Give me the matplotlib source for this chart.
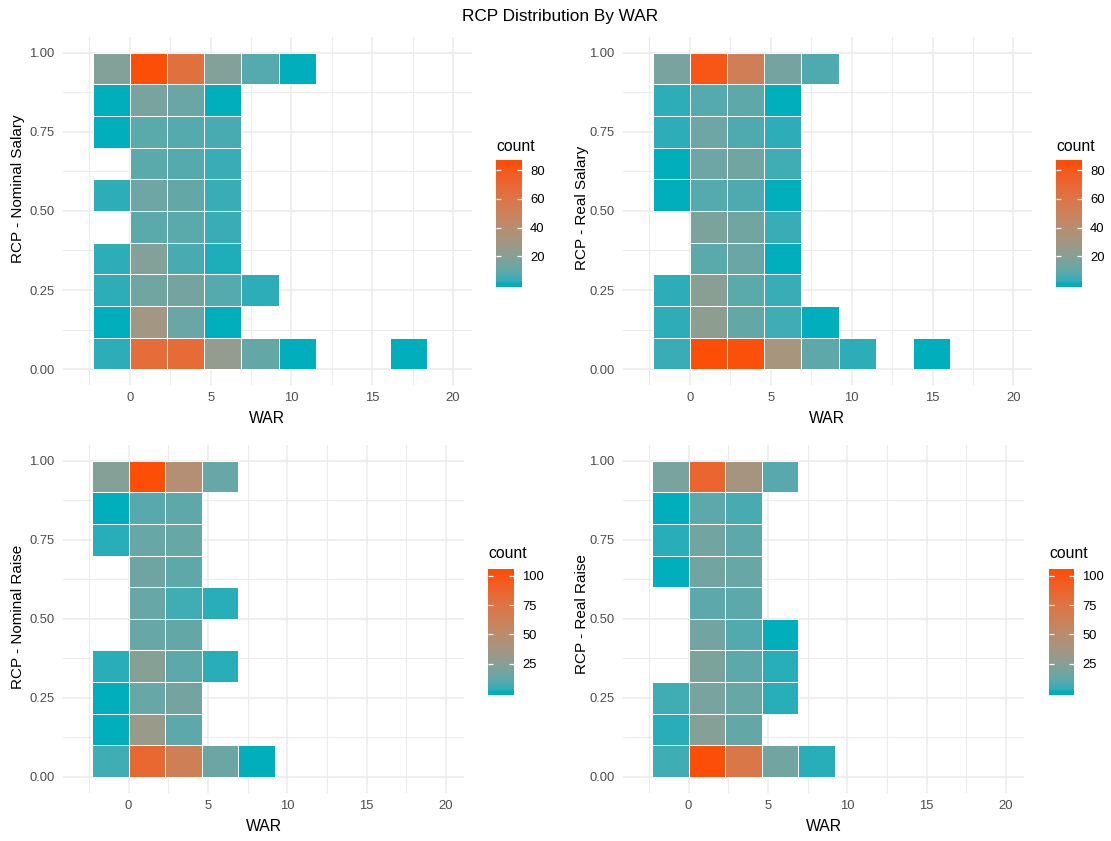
import numpy as np
import matplotlib
matplotlib.use("Agg")
import matplotlib.pyplot as plt
from matplotlib.colors import ListedColormap, Normalize, to_rgb

plt.rcParams["font.family"] = ["Liberation Sans", "DejaVu Sans"]

W, H = 1111, 841

# ---------------------------------------------------------------- data
war_edges = [-2.3, 0.0, 2.3, 4.6, 6.9, 9.2, 11.5, 13.8, 16.1, 18.4]
rcp_edges = [0.0, 0.1, 0.2, 0.3, 0.4, 0.5, 0.6, 0.7, 0.8, 0.9, 1.0]

# counts per bin: rows go from the lowest RCP bin upwards,
# columns follow the WAR bins (0 = empty bin)
nominal_salary_counts = [
    [3, 67, 68, 24, 11, 1, 0, 0, 1],
    [1, 30, 12, 1, 0, 0, 0, 0, 0],
    [3, 14, 15, 8, 3, 0, 0, 0, 0],
    [3, 19, 6, 2, 0, 0, 0, 0, 0],
    [0, 9, 9, 4, 0, 0, 0, 0, 0],
    [3, 13, 11, 4, 0, 0, 0, 0, 0],
    [0, 9, 8, 4, 0, 0, 0, 0, 0],
    [1, 9, 8, 6, 0, 0, 0, 0, 0],
    [1, 16, 12, 1, 0, 0, 0, 0, 0],
    [19, 85, 64, 19, 8, 1, 0, 0, 0],
]
real_salary_counts = [
    [4, 85, 84, 32, 10, 3, 0, 1, 0],
    [3, 22, 11, 5, 1, 0, 0, 0, 0],
    [3, 21, 9, 4, 0, 0, 0, 0, 0],
    [0, 9, 12, 1, 0, 0, 0, 0, 0],
    [0, 17, 14, 4, 0, 0, 0, 0, 0],
    [1, 8, 7, 1, 0, 0, 0, 0, 0],
    [1, 13, 14, 5, 0, 0, 0, 0, 0],
    [3, 13, 7, 3, 0, 0, 0, 0, 0],
    [3, 8, 10, 1, 0, 0, 0, 0, 0],
    [16, 81, 53, 15, 7, 0, 0, 0, 0],
]
nominal_raise_counts = [
    [6, 85, 64, 15, 1, 0, 0, 0, 0],
    [1, 32, 11, 0, 0, 0, 0, 0, 0],
    [1, 14, 18, 0, 0, 0, 0, 0, 0],
    [3, 24, 11, 3, 0, 0, 0, 0, 0],
    [0, 14, 13, 0, 0, 0, 0, 0, 0],
    [0, 14, 6, 3, 0, 0, 0, 0, 0],
    [0, 16, 12, 0, 0, 0, 0, 0, 0],
    [3, 14, 14, 0, 0, 0, 0, 0, 0],
    [1, 10, 12, 0, 0, 0, 0, 0, 0],
    [23, 103, 46, 14, 0, 0, 0, 0, 0],
]
real_raise_counts = [
    [6, 103, 72, 17, 3, 0, 0, 0, 0],
    [3, 23, 13, 0, 0, 0, 0, 0, 0],
    [6, 19, 14, 3, 0, 0, 0, 0, 0],
    [0, 20, 11, 3, 0, 0, 0, 0, 0],
    [0, 17, 9, 1, 0, 0, 0, 0, 0],
    [0, 11, 11, 0, 0, 0, 0, 0, 0],
    [1, 17, 14, 0, 0, 0, 0, 0, 0],
    [3, 17, 11, 0, 0, 0, 0, 0, 0],
    [1, 11, 7, 0, 0, 0, 0, 0, 0],
    [19, 87, 39, 10, 0, 0, 0, 0, 0],
]

y_titles = ["RCP - Nominal Salary", "RCP - Real Salary",
            "RCP - Nominal Raise", "RCP - Real Raise"]
x_title = "WAR"
plot_title = "RCP Distribution By WAR"
legend_title = "count"

x_ticks = [0, 5, 10, 15, 20]
x_minor = [-2.5, 2.5, 7.5, 12.5, 17.5]
y_ticks = [0.0, 0.25, 0.5, 0.75, 1.0]
y_minor = [0.125, 0.375, 0.625, 0.875]
y_tick_labels = ["0.00", "0.25", "0.50", "0.75", "1.00"]
salary_breaks = [20, 40, 60, 80]
raise_breaks = [25, 50, 75, 100]

LOW, HIGH = "#00AFBB", "#FC4E07"


# ---------------------------------------------------------------- colour ramp in CIELAB
_M = np.array([[0.4124564, 0.3575761, 0.1804375],
               [0.2126729, 0.7151522, 0.0721750],
               [0.0193339, 0.1191920, 0.9503041]])
_WHITE = np.array([0.95047, 1.0, 1.08883])
_D = 6 / 29


def to_lab(color):
    rgb = np.array(to_rgb(color))
    lin = np.where(rgb <= 0.04045, rgb / 12.92, ((rgb + 0.055) / 1.055) ** 2.4)
    r = (_M @ lin) / _WHITE
    f = np.where(r > _D ** 3, np.cbrt(r), r / (3 * _D ** 2) + 4 / 29)
    return np.array([116 * f[1] - 16, 500 * (f[0] - f[1]), 200 * (f[1] - f[2])])


def from_lab(lab):
    fy = (lab[:, 0] + 16) / 116
    fx = fy + lab[:, 1] / 500
    fz = fy - lab[:, 2] / 200
    f = np.stack([fx, fy, fz], axis=1)
    xyz = np.where(f > _D, f ** 3, 3 * _D ** 2 * (f - 4 / 29)) * _WHITE
    lin = np.clip(xyz @ np.linalg.inv(_M).T, 0, 1)
    srgb = np.where(lin <= 0.0031308, 12.92 * lin, 1.055 * lin ** (1 / 2.4) - 0.055)
    return np.clip(srgb, 0, 1)


t = np.linspace(0, 1, 256)[:, None]
ramp = from_lab((1 - t) * to_lab(LOW) + t * to_lab(HIGH))
cmap = ListedColormap(ramp)

# ---------------------------------------------------------------- figure
fig = plt.figure(figsize=(W / 100, H / 100), dpi=100)
fig.patch.set_facecolor("white")


def frac_rect(x0, y0, x1, y1):
    return [x0 / W, 1 - y1 / H, (x1 - x0) / W, (y1 - y0) / H]


panels = [
    dict(counts=nominal_salary_counts, ytitle=y_titles[0], breaks=salary_breaks,
         rect=(62.7, 36.7, 471.7, 385.0), cbar=(496.0, 160.0, 521.7, 286.7),
         ytitle_xy=(18.3, 189.0), xtitle_y=419.0, legend_title_y=146.7),
    dict(counts=real_salary_counts, ytitle=y_titles[1], breaks=salary_breaks,
         rect=(622.7, 36.7, 1032.0, 385.0), cbar=(1056.0, 160.0, 1081.7, 286.7),
         ytitle_xy=(581.7, 207.5), xtitle_y=419.0, legend_title_y=146.7),
    dict(counts=nominal_raise_counts, ytitle=y_titles[2], breaks=raise_breaks,
         rect=(62.7, 445.0, 464.3, 792.7), cbar=(488.3, 569.3, 514.0, 695.0),
         ytitle_xy=(18.3, 617.0), xtitle_y=826.5, legend_title_y=553.3),
    dict(counts=real_raise_counts, ytitle=y_titles[3], breaks=raise_breaks,
         rect=(622.7, 445.0, 1024.3, 792.7), cbar=(1049.0, 569.3, 1074.0, 695.0),
         ytitle_xy=(581.7, 614.0), xtitle_y=826.5, legend_title_y=553.3),
]

GRID = "#EBEBEB"
TICK_TXT = "#4D4D4D"
TICK_SIZE = 9.4

for p in panels:
    counts = np.array(p["counts"], dtype=float)
    vmin, vmax = counts[counts > 0].min(), counts.max()
    norm = Normalize(vmin, vmax)

    ax = fig.add_axes(frac_rect(*p["rect"]))
    ax.set_facecolor("white")
    ax.set_xlim(-4.15, 21.15)
    ax.set_ylim(-0.05, 1.05)
    ax.set_axisbelow(True)

    xe = np.array(war_edges)
    ye = np.array(rcp_edges)
    rows, cols = np.nonzero(counts)
    vals = counts[rows, cols]
    ax.bar(xe[cols], ye[rows + 1] - ye[rows], width=xe[cols + 1] - xe[cols],
           bottom=ye[rows], align="edge", color=cmap(norm(vals)),
           edgecolor="white", linewidth=0.7, zorder=2)

    ax.set_xticks(x_ticks)
    ax.set_xticks(x_minor, minor=True)
    ax.set_yticks(y_ticks)
    ax.set_yticks(y_minor, minor=True)
    ax.set_yticklabels(y_tick_labels)
    ax.grid(which="major", color=GRID, linewidth=1.1)
    ax.grid(which="minor", color=GRID, linewidth=0.75)
    ax.tick_params(which="both", length=0)
    ax.tick_params(axis="x", pad=5.0, labelsize=TICK_SIZE, labelcolor=TICK_TXT)
    ax.tick_params(axis="y", pad=6.0, labelsize=TICK_SIZE, labelcolor=TICK_TXT)
    for s in ax.spines.values():
        s.set_visible(False)

    x0, y0, x1, y1 = p["rect"]
    fig.text((x0 + x1) / 2 / W, 1 - p["xtitle_y"] / H, x_title,
             ha="center", va="center", fontsize=11.3, color="black")
    tx, ty = p["ytitle_xy"]
    fig.text(tx / W, 1 - ty / H, p["ytitle"], rotation=90,
             ha="center", va="center", fontsize=11, color="black")

    # colour bar: 20 sampled colours, half a step of margin at each end
    step = (vmax - vmin) / 19
    lo, hi = vmin - step / 2, vmax + step / 2
    cax = fig.add_axes(frac_rect(*p["cbar"]))
    samples = np.linspace(vmin, vmax, 20)[:, None]
    cax.imshow(samples, cmap=cmap, norm=norm, origin="lower", aspect="auto",
               extent=[0, 1, lo, hi], interpolation="bilinear")
    cax.set_xlim(0, 1)
    cax.set_ylim(lo, hi)
    cax.hlines(p["breaks"], 0, 0.2, color="white", linewidth=0.9)
    cax.hlines(p["breaks"], 0.8, 1, color="white", linewidth=0.9)
    cax.set_xticks([])
    cax.yaxis.tick_right()
    cax.set_yticks(p["breaks"])
    cax.tick_params(axis="y", length=0, pad=6, labelsize=TICK_SIZE, labelcolor="black")
    for s in cax.spines.values():
        s.set_visible(False)
    fig.text(p["cbar"][0] / W, 1 - p["legend_title_y"] / H, legend_title,
             ha="left", va="center", fontsize=11.3, color="black")

fig.text(560 / W, 1 - 17 / H, plot_title, ha="center", va="center",
         fontsize=12.4, color="black")

fig.savefig("out.png", dpi=100, facecolor="white")
